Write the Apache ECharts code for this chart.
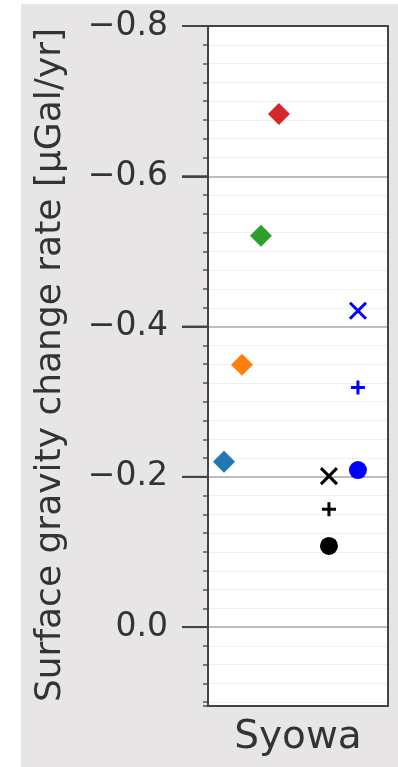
<!DOCTYPE html>
<html>
<head>
<meta charset="utf-8">
<script src="https://cdn.jsdelivr.net/npm/echarts@6/dist/echarts.min.js"></script>
<style>html,body{margin:0;padding:0;background:#fff}#c{width:398px;height:767px}</style>
</head>
<body>
<div id="c"></div>
<script>
const categories = ['Syowa'];
const yTicks = [-0.8, -0.6, -0.4, -0.2, 0.0];
const diamondValues = [-0.22, -0.349, -0.521, -0.683];
const diamondOffsets = [-0.411, -0.311, -0.206, -0.106];
const diamondColors = ['#1f77b4', '#ff7f0e', '#2ca02c', '#d62728'];
const markerKinds = ['cross', 'plus', 'circle'];
const blackValues = [-0.201, -0.157, -0.108];
const blueValues = [-0.421, -0.319, -0.209];
const blackOffset = 0.172;
const blueOffset = 0.333;

const FONT = 'DejaVu Sans';
const Y_MIN = -0.8, Y_MAX = 0.105;
const GRID = { left: 208, top: 26, right: 10, bottom: 61 };
const MAJOR_TICK_LEN = 26;
const W = 398, H = 767;
const plotH = H - GRID.top - GRID.bottom;
const tickMin = yTicks[0], tickMax = yTicks[yTicks.length - 1];
const tickStep = yTicks[1] - yTicks[0];
const subTop = GRID.top + (tickMin - Y_MIN) / (Y_MAX - Y_MIN) * plotH;
const subBottom = GRID.bottom + (Y_MAX - tickMax) / (Y_MAX - Y_MIN) * plotH;

const symbolFor = {
  cross: { symbol: 'path://M0,0L10,10M10,0L0,10', size: 16, stroke: true },
  plus: { symbol: 'path://M5,0L5,10M0,5L10,5', size: 14, stroke: true },
  circle: { symbol: 'circle', size: 18, stroke: false }
};

const series = [];
diamondValues.forEach((v, i) => {
  series.push({
    type: 'scatter', symbol: 'diamond', symbolSize: 22, xAxisIndex: 0, yAxisIndex: 0,
    itemStyle: { color: diamondColors[i], opacity: 1 },
    data: [[diamondOffsets[i], v]], z: 5
  });
});
function group(values, offset, color) {
  values.forEach((v, i) => {
    const s = symbolFor[markerKinds[i]];
    series.push({
      type: 'scatter', symbol: s.symbol, symbolSize: s.size, xAxisIndex: 0, yAxisIndex: 0,
      itemStyle: s.stroke ? { color: 'none', borderColor: color, borderWidth: 3, opacity: 1 }
                          : { color: color, opacity: 1 },
      data: [[offset, v]], z: 5
    });
  });
}
group(blackValues, blackOffset, '#000000');
group(blueValues, blueOffset, '#0000ff');

const baseGraphic = [
  { type: 'rect', silent: true, shape: { x: 0, y: 0, width: 21, height: H }, style: { fill: '#ffffff' } },
  { type: 'rect', silent: true, shape: { x: 0, y: 0, width: W, height: 4 }, style: { fill: '#ffffff' } },
  { type: 'rect', z: 20, silent: true,
    shape: { x: GRID.left, y: GRID.top, width: W - GRID.left - GRID.right, height: plotH },
    style: { fill: 'none', stroke: '#444444', lineWidth: 2 } },
  { type: 'text', z: 10, x: 51, y: 365, rotation: Math.PI / 2,
    style: { text: 'Surface gravity change rate [µGal/yr]', font: '36px "' + FONT + '"', fill: '#333333', align: 'center', verticalAlign: 'middle' } }
];

const chart = echarts.init(document.getElementById('c'), null, { renderer: 'canvas' });
chart.setOption({
  backgroundColor: '#e7e5e5',
  animation: false,
  graphic: baseGraphic,
  grid: [
    { left: GRID.left, top: GRID.top, right: GRID.right, bottom: GRID.bottom, show: true, backgroundColor: '#ffffff', borderWidth: 0, containLabel: false },
    { left: GRID.left, top: subTop, right: GRID.right, bottom: subBottom, show: false, containLabel: false },
    { left: GRID.left - MAJOR_TICK_LEN, top: subTop, right: W - GRID.left, bottom: subBottom, show: false, containLabel: false }
  ],
  xAxis: [{
    gridIndex: 0, type: 'value', min: -0.5, max: 0.5, interval: 0.5,
    axisLine: { show: false, onZero: false }, axisTick: { show: false }, splitLine: { show: false },
    axisLabel: { margin: 12, fontFamily: FONT, fontSize: 39, color: '#333333',
      formatter: v => Math.abs(v) < 1e-9 ? categories[0] : '' }
  }, {
    gridIndex: 1, type: 'value', min: -0.5, max: 0.5, show: false
  }, {
    gridIndex: 2, type: 'value', min: 0, max: 1, show: false
  }],
  yAxis: [{
    gridIndex: 0, type: 'value', inverse: true, min: Y_MIN, max: Y_MAX, interval: 0.025,
    axisLine: { show: false, onZero: false },
    axisTick: { show: true, length: 5, lineStyle: { color: '#555555', width: 1.5 } },
    axisLabel: { show: false },
    splitLine: { show: true, lineStyle: { color: '#f0f0f0', width: 1 } }
  }, {
    gridIndex: 1, type: 'value', inverse: true, min: tickMin, max: tickMax, interval: tickStep,
    axisLine: { show: false, onZero: false }, axisTick: { show: false }, axisLabel: { show: false },
    splitLine: { show: true, lineStyle: { color: '#aaaaaa', width: 1.5 } }
  }, {
    gridIndex: 2, type: 'value', inverse: true, min: tickMin, max: tickMax, interval: tickStep,
    axisLine: { show: false, onZero: false }, axisTick: { show: false },
    axisLabel: { margin: 14, fontFamily: FONT, fontSize: 33, color: '#333333',
      formatter: v => v.toFixed(1).replace('-', '\u2212') },
    splitLine: { show: true, lineStyle: { color: '#444444', width: 2 } }
  }],
  series: series
});

// major tick marks placed through the library's own y scale
const tickLines = yTicks.map(v => {
  const y = chart.convertToPixel({ xAxisIndex: 0, yAxisIndex: 0 }, [0, v])[1];
  return { type: 'line', z: 20, silent: true,
    shape: { x1: GRID.left - MAJOR_TICK_LEN, y1: y, x2: GRID.left, y2: y },
    style: { stroke: '#444444', lineWidth: 2 } };
});
chart.setOption({ graphic: baseGraphic.concat(tickLines) });
</script>
</body>
</html>
